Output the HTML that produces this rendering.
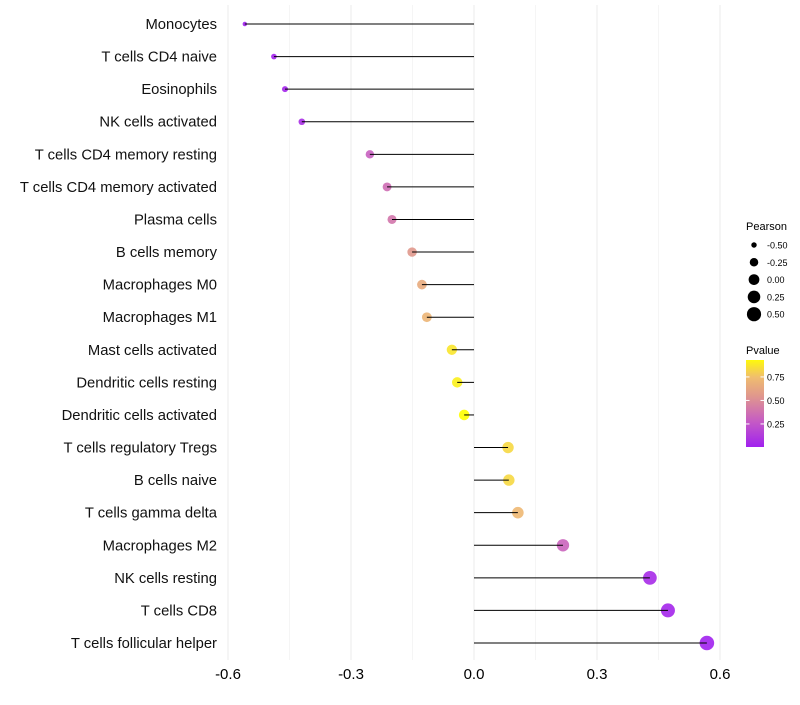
<!DOCTYPE html>
<html><head><meta charset="utf-8"><style>
body{margin:0;background:#fff;font-family:"Liberation Sans",sans-serif}
</style></head><body>
<svg id="chart" width="800" height="700" xmlns="http://www.w3.org/2000/svg"></svg>
<script>
const categories=["Monocytes","T cells CD4 naive","Eosinophils","NK cells activated","T cells CD4 memory resting","T cells CD4 memory activated","Plasma cells","B cells memory","Macrophages M0","Macrophages M1","Mast cells activated","Dendritic cells resting","Dendritic cells activated","T cells regulatory  Tregs","B cells naive","T cells gamma delta","Macrophages M2","NK cells resting","T cells CD8","T cells follicular helper"];
const pearson=[-0.559,-0.488,-0.461,-0.42,-0.254,-0.212,-0.2,-0.151,-0.127,-0.115,-0.054,-0.041,-0.024,0.083,0.085,0.107,0.217,0.429,0.473,0.568];
const pvalue=[0.01,0.02,0.03,0.06,0.3,0.36,0.4,0.55,0.65,0.7,0.87,0.9,0.95,0.83,0.83,0.72,0.32,0.05,0.03,0.01];
const xTicks=[-0.6,-0.3,0.0,0.3,0.6];
const xTickLabels=["-0.6","-0.3","0.0","0.3","0.6"];
const minorTicks=[-0.45,-0.15,0.15,0.45];
const legendSizes=[-0.5,-0.25,0,0.25,0.5];
const legendSizeLabels=["-0.50","-0.25","0.00","0.25","0.50"];
const legendColorTicks=[0.75,0.5,0.25];
const legendColorLabels=["0.75","0.50","0.25"];

const svg=document.getElementById('chart');const NS="http://www.w3.org/2000/svg";
function mk(t,a,p){const e=document.createElementNS(NS,t);for(const k in a)e.setAttribute(k,a[k]);(p||svg).appendChild(e);return e;}
const x=v=>474+v*410;
const y=i=>24+i*(643-24)/19;
function rad(v){const a0=2.2*2.2,a1=7.3*7.3;const t=(v+0.56)/(1.13);return Math.sqrt(a0+(a1-a0)*Math.max(0,t));}
function col(p){const stops=[[0,[160,32,240]],[0.3,[200,96,192]],[0.55,[224,152,140]],[0.75,[240,190,110]],[0.95,[255,255,0]]];
 p=Math.max(0,Math.min(0.95,p));for(let i=1;i<stops.length;i++){if(p<=stops[i][0]){const[a,c0]=stops[i-1],[b,c1]=stops[i];const t=(p-a)/(b-a);return`rgb(${c0.map((c,j)=>Math.round(c+(c1[j]-c)*t)).join(',')})`;}}return'rgb(255,255,0)';}
minorTicks.forEach(v=>{const l=mk('line',{x1:x(v),x2:x(v),y1:5,y2:660,stroke:'#f5f5f5','stroke-width':1});});
xTicks.forEach((v,i)=>{const l=mk('line',{x1:x(v),x2:x(v),y1:5,y2:660,stroke:'#ebebeb','stroke-width':1});
 const t=mk('text',{x:x(v),y:679,'text-anchor':'middle','font-size':15,fill:'#000'});t.textContent=xTickLabels[i];});
categories.forEach((c,i)=>{
 const t=mk('text',{x:217,y:y(i)+5,'text-anchor':'end','font-size':14.8,fill:'#111'});t.textContent=c;
 const p=mk('circle',{cx:x(pearson[i]),cy:y(i),r:rad(pearson[i]),fill:col(pvalue[i]),'fill-opacity':0.9});
 const l=mk('line',{x1:x(0),x2:x(pearson[i]),y1:y(i),y2:y(i),stroke:'#000','stroke-width':1});
});
const lt=mk('text',{x:746,y:230,'font-size':11});lt.textContent='Pearson';
legendSizes.forEach((v,i)=>{const cy=245+i*17.3;const c=mk('circle',{cx:754,cy:cy,r:rad(v),fill:'#000'});
 const t=mk('text',{x:767,y:cy+3.5,'font-size':9});t.textContent=legendSizeLabels[i];});
const ct=mk('text',{x:746,y:354,'font-size':11});ct.textContent='Pvalue';
const defs=mk('defs',{});const gr=mk('linearGradient',{id:'pg',x1:0,y1:1,x2:0,y2:0},defs);
for(let k=0;k<=10;k++){const p=0.005+k*(0.93-0.005)/10;mk('stop',{offset:k/10,'stop-color':col(p)},gr);}
const bar=mk('rect',{x:746,y:360,width:18,height:87,fill:'url(#pg)'});
legendColorTicks.forEach((v,i)=>{const yy=447-(v-0.005)/(0.925)*87;
 mk('line',{x1:746,x2:749.5,y1:yy,y2:yy,stroke:'#fff'});mk('line',{x1:760.5,x2:764,y1:yy,y2:yy,stroke:'#fff'});
 const t=mk('text',{x:767,y:yy+3.5,'font-size':9});t.textContent=legendColorLabels[i];});
</script>
</body></html>
